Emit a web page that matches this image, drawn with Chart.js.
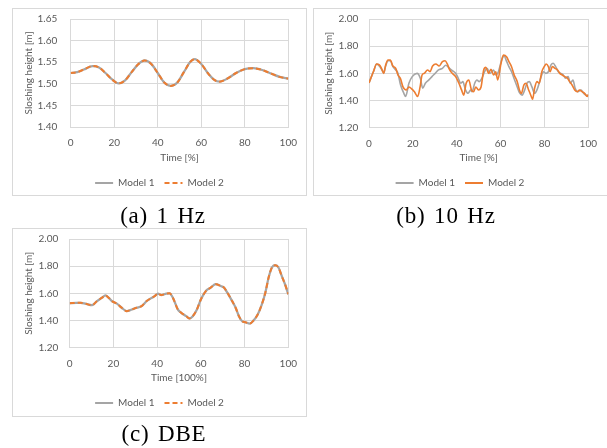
<!DOCTYPE html>
<html>
<head>
<meta charset="utf-8">
<script src="https://cdn.jsdelivr.net/npm/chart.js@4/dist/chart.umd.min.js"></script>
<style>
  html, body { margin: 0; padding: 0; background: #ffffff; }
  body { width: 607px; height: 448px; position: relative; overflow: hidden; }
  .wrap { position: absolute; }
  .frame { position: absolute; border: 1px solid #d9d9d9; box-sizing: border-box; pointer-events: none; }
  .cap { position: absolute; font-family: "Liberation Serif", "DejaVu Serif", serif; font-size: 23px; color: #000; text-align: center; white-space: nowrap; letter-spacing: 0.8px; word-spacing: 2px; line-height: 26px; }
</style>
</head>
<body>
<div class="wrap" style="left:12px;top:8px;width:295px;height:188px;"><canvas id="cA"></canvas></div>
<div class="frame" style="left:12px;top:8px;width:295px;height:188px;"></div>
<div class="wrap" style="left:313px;top:8px;width:294px;height:188px;"><canvas id="cB"></canvas></div>
<div class="frame" style="left:313px;top:8px;width:295px;height:188px;"></div>
<div class="wrap" style="left:12px;top:228px;width:295px;height:189px;"><canvas id="cC"></canvas></div>
<div class="frame" style="left:12px;top:228px;width:295px;height:189px;"></div>

<div class="cap" style="left:103px;top:203px;width:120px;">(a) 1 Hz</div>
<div class="cap" style="left:386px;top:203px;width:120px;">(b) 10 Hz</div>
<div class="cap" style="left:104px;top:421px;width:120px;">(c) DBE</div>

<script>
// ---------- DATA ----------
const seriesNames = ["Model 1", "Model 2"];

// (a) 1 Hz
const timeA = [0,3,6,10,13,16,19,22,25,28,31,34,37,40,43,46,49,52,55,57,60,63,66,68.5,72,76,80,84,88,92,96,100];
const heightA1 = [1.525,1.527,1.533,1.541,1.538,1.525,1.510,1.501,1.508,1.527,1.545,1.554,1.546,1.525,1.503,1.495,1.503,1.527,1.551,1.557,1.546,1.525,1.509,1.505,1.512,1.525,1.534,1.536,1.532,1.524,1.516,1.512];
const heightA2 = [1.525,1.527,1.533,1.541,1.538,1.525,1.510,1.501,1.508,1.527,1.545,1.554,1.546,1.525,1.503,1.495,1.503,1.527,1.551,1.557,1.546,1.525,1.509,1.505,1.512,1.525,1.534,1.536,1.532,1.524,1.516,1.512];
const yTicksA = [1.40, 1.45, 1.50, 1.55, 1.60, 1.65];

// (b) 10 Hz
const timeB1 = [0,2,3.5,4.7,5.7,6.7,7.6,8.7,9.7,10.9,12.2,13.2,14.4,15.9,16.7,18.2,19.7,21.9,23.4,24.5,25.7,27.2,28.7,30.2,31.7,33.5,35,36.5,38,39.5,40.7,41.8,42.8,44,45.2,46.3,47,48.2,49.2,50.3,51.5,52.7,53.8,55.2,56.8,57.8,59,60.5,61.6,62.8,63.8,65,66.1,67.6,68.6,69.8,71,72,73.1,74.3,75.5,76.6,77.6,78.5,79.6,80.6,81.8,83,84,85.1,86.3,87.5,88.6,89.6,90.8,91.8,93,94,95.2,96.7,97.9,99,100];
const heightB1 = [1.53,1.612,1.669,1.654,1.63,1.605,1.654,1.693,1.693,1.649,1.625,1.60,1.514,1.453,1.43,1.527,1.576,1.60,1.564,1.49,1.527,1.55,1.576,1.60,1.625,1.637,1.66,1.64,1.62,1.60,1.564,1.527,1.539,1.478,1.453,1.478,1.465,1.527,1.551,1.539,1.564,1.612,1.637,1.60,1.625,1.588,1.612,1.698,1.728,1.686,1.649,1.612,1.564,1.50,1.458,1.44,1.478,1.527,1.539,1.50,1.453,1.478,1.527,1.576,1.612,1.60,1.612,1.662,1.674,1.65,1.612,1.60,1.588,1.564,1.576,1.527,1.551,1.49,1.465,1.478,1.453,1.44,1.43];
const timeB2 = [0,2,3.5,4.7,5.7,6.7,7.6,8.7,9.7,10.9,12.2,13.2,14.3,15.5,17,18.2,19.2,20.7,22.2,23.3,24.2,25.2,26.7,27.8,29,30.5,32,33.5,34.7,35.7,36.8,38,39.5,41,42.2,43.2,44.3,45.5,46.7,47.7,48.7,49.9,51.1,52.3,53.3,54.5,55.6,56.8,57.8,58.7,60.2,61.3,62.8,63.8,65,66.2,67.6,68.6,69.5,70.6,71.6,72.8,74,74.6,75.5,76.6,77.6,78.8,79.9,80.8,81.8,82.6,83.6,84.8,86,87,88.1,89.3,90.5,91.5,92.6,93.8,95,96,97.1,98.3,99.5,100];
const heightB2 = [1.53,1.612,1.669,1.662,1.637,1.60,1.662,1.698,1.698,1.654,1.637,1.588,1.564,1.50,1.478,1.50,1.49,1.465,1.43,1.50,1.588,1.60,1.625,1.612,1.654,1.669,1.654,1.686,1.693,1.669,1.625,1.60,1.576,1.527,1.478,1.44,1.527,1.551,1.478,1.465,1.50,1.478,1.50,1.625,1.644,1.60,1.63,1.588,1.612,1.551,1.674,1.735,1.72,1.686,1.649,1.588,1.539,1.478,1.453,1.514,1.527,1.478,1.43,1.41,1.49,1.539,1.527,1.612,1.649,1.669,1.65,1.612,1.65,1.637,1.625,1.60,1.588,1.576,1.564,1.539,1.514,1.478,1.465,1.478,1.465,1.453,1.43,1.445];
const yTicksB = [1.20, 1.40, 1.60, 1.80, 2.00];

// (c) DBE
const timeC = [0,3,5,7.2,10.2,12.5,14.8,16.3,17.8,19.3,21.6,23.8,26.1,28.4,30.6,32.9,35.2,37.1,38.9,40.4,41.9,44.2,45.7,47.2,49.5,51,53.3,54.8,56.3,58.2,60,62.3,64.5,66.8,69.1,70.6,72.1,74.3,75.9,77.4,78.9,80.4,82.4,84.2,86,87.9,89.5,91,92.5,94,95.5,97,98.5,100];
const heightC1 = [1.528,1.53,1.53,1.524,1.513,1.543,1.568,1.585,1.568,1.543,1.524,1.494,1.469,1.481,1.494,1.506,1.543,1.563,1.58,1.598,1.587,1.598,1.60,1.568,1.48,1.457,1.432,1.415,1.432,1.481,1.555,1.617,1.642,1.667,1.654,1.642,1.605,1.543,1.494,1.432,1.395,1.387,1.378,1.402,1.444,1.519,1.605,1.716,1.79,1.807,1.79,1.728,1.667,1.593];
const heightC2 = [1.528,1.53,1.53,1.524,1.513,1.543,1.568,1.585,1.568,1.543,1.524,1.494,1.469,1.481,1.494,1.506,1.543,1.563,1.58,1.598,1.587,1.598,1.60,1.568,1.48,1.457,1.432,1.415,1.432,1.481,1.555,1.617,1.642,1.667,1.654,1.642,1.605,1.543,1.494,1.432,1.395,1.387,1.378,1.402,1.444,1.519,1.605,1.716,1.79,1.807,1.79,1.728,1.667,1.593];

const xTicks = [0, 20, 40, 60, 80, 100];
const yTitle = "Sloshing height [m]";
const xTitleA = "Time [%]";
const xTitleB = "Time [%]";
const xTitleC = "Time [100%]";

// ---------- STYLE ----------
const GRAY = "#a5a5a5", ORANGE = "#ed7d31", TXT = "#595959", GRID = "#d9d9d9";
const FONT = "Lato, 'Open Sans', 'Liberation Sans', sans-serif";

function pts(xs, ys) { return xs.map((x, i) => ({ x: x, y: ys[i] })); }

function makeChart(id, o) {
  const ds = [
    { label: seriesNames[0], data: pts(o.t1, o.v1), borderColor: GRAY, backgroundColor: GRAY,
      borderWidth: o.w1, pointRadius: 0, cubicInterpolationMode: 'monotone', order: 2, fill: false },
    { label: seriesNames[1], data: pts(o.t2, o.v2), borderColor: ORANGE, backgroundColor: ORANGE,
      borderWidth: o.w2, borderDash: o.dash, pointRadius: 0, cubicInterpolationMode: 'monotone', order: 1, fill: false }
  ];
  return new Chart(document.getElementById(id), {
    type: 'line',
    data: { datasets: ds },
    options: {
      responsive: true, maintainAspectRatio: false, animation: false,
      layout: { padding: { top: 11, right: 0, left: 0, bottom: o.padB } },
      plugins: {
        tooltip: { enabled: false },
        legend: {
          position: 'bottom',
          labels: {
            usePointStyle: true, pointStyle: 'line', pointStyleWidth: 18, padding: 10,
            color: TXT, font: { family: FONT, size: 10 },
            generateLabels: chart => chart.data.datasets.map((d, i) => ({
              text: d.label, datasetIndex: i, fillStyle: d.borderColor, strokeStyle: d.borderColor,
              lineWidth: 2, lineDash: d.borderDash || [], lineCap: 'butt',
              pointStyle: 'line', hidden: false, fontColor: TXT
            }))
          }
        }
      },
      scales: {
        x: {
          type: 'linear', min: 0, max: 100,
          afterBuildTicks: s => { s.ticks = xTicks.map(v => ({ value: v })); },
          afterFit: s => { s.height = o.xH; },
          grid: { color: GRID, lineWidth: 1, drawTicks: false },
          border: { color: GRID, width: 1 },
          ticks: { color: TXT, font: { family: FONT, size: 10 }, padding: 10, maxRotation: 0 },
          title: { display: true, text: o.xTitle, color: TXT, font: { family: FONT, size: 10 }, padding: { top: 0, bottom: 4 } }
        },
        y: {
          min: o.yTicks[0], max: o.yTicks[o.yTicks.length - 1],
          afterBuildTicks: s => { s.ticks = o.yTicks.map(v => ({ value: v })); },
          afterFit: s => { s.width = o.left; s.paddingTop = 0; s.paddingBottom = 0; },
          grid: { color: GRID, lineWidth: 1, drawTicks: false },
          border: { display: false },
          ticks: { color: TXT, font: { family: FONT, size: 10 }, padding: o.tickPad, callback: v => Number(v).toFixed(2) },
          title: { display: true, text: yTitle, color: TXT, font: { family: FONT, size: 10 }, padding: { top: o.titlePad, bottom: 0 } }
        },
        yR: {
          position: 'right', min: o.yTicks[0], max: o.yTicks[o.yTicks.length - 1],
          afterFit: s => { s.width = o.padR; s.paddingTop = 0; s.paddingBottom = 0; },
          grid: { display: false, drawTicks: false }, border: { display: false },
          ticks: { display: false }, title: { display: false }
        }
      }
    }
  });
}

makeChart('cA', { t1: timeA, v1: heightA1, t2: timeA, v2: heightA2, w1: 2.25, w2: 2, dash: [5, 3],
  yTicks: yTicksA, xTitle: xTitleA, left: 58.7, padR: 18.5, padB: -2, xH: 41, tickPad: 13.4, titlePad: 11 });
makeChart('cB', { t1: timeB1, v1: heightB1, t2: timeB2, v2: heightB2, w1: 1.6, w2: 1.6, dash: [],
  yTicks: yTicksB, xTitle: xTitleB, left: 56, padR: 16, padB: -2, xH: 40.3, tickPad: 10.7, titlePad: 10 });
makeChart('cC', { t1: timeC, v1: heightC1, t2: timeC, v2: heightC2, w1: 2.25, w2: 2, dash: [5, 3],
  yTicks: yTicksB, xTitle: xTitleC, left: 57.7, padR: 17, padB: -1, xH: 40.3, tickPad: 11.4, titlePad: 11 });
</script>
</body>
</html>
